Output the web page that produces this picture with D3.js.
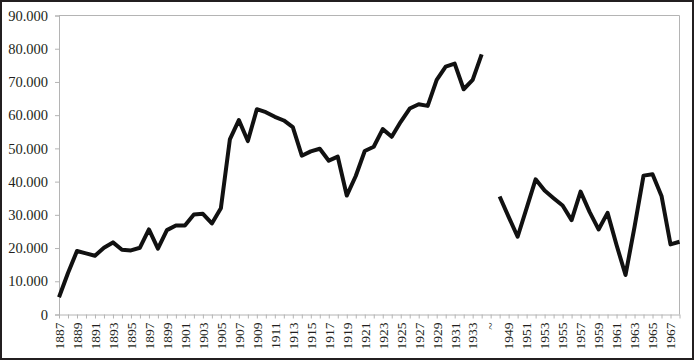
<!DOCTYPE html>
<html>
<head>
<meta charset="utf-8">
<script src="https://cdn.jsdelivr.net/npm/d3@7"></script>
<style>
  html, body { margin: 0; padding: 0; background: #fff; }
  svg { display: block; }
  .axis text { fill: #231f20; }
</style>
</head>
<body>
<svg id="chart"></svg>
<script>
const categories = [
  '1887', '1888', '1889', '1890', '1891', '1892', '1893', '1894', '1895', '1896',
  '1897', '1898', '1899', '1900', '1901', '1902', '1903', '1904', '1905', '1906',
  '1907', '1908', '1909', '1910', '1911', '1912', '1913', '1914', '1915', '1916',
  '1917', '1918', '1919', '1920', '1921', '1922', '1923', '1924', '1925', '1926',
  '1927', '1928', '1929', '1930', '1931', '1932', '1933', '1934', '~', '1948',
  '1949', '1950', '1951', '1952', '1953', '1954', '1955', '1956', '1957', '1958',
  '1959', '1960', '1961', '1962', '1963', '1964', '1965', '1966', '1967', '1968',
];

const values = [
  5200, 12500, 19100, 18400, 17700, 20100, 21700, 19500, 19300, 20100,
  25600, 19800, 25400, 26800, 26800, 30100, 30300, 27400, 32000, 52700,
  58500, 52200, 61800, 60900, 59500, 58400, 56400, 47800, 49100, 49900,
  46300, 47500, 35800, 41700, 49200, 50500, 55800, 53500, 58000, 62000,
  63300, 62800, 70600, 74600, 75500, 67800, 70600, 78300, null, 35500,
  29400, 23400, 32000, 40700, 37300, 35000, 32800, 28400, 37000, 30900,
  25600, 30600, 20900, 11900, 26400, 41800, 42200, 35700, 21100, 21900,
];

const yTicks = [0, 10000, 20000, 30000, 40000, 50000, 60000, 70000, 80000, 90000];

const width = 695;
const height = 361;
const plotLeft = 59;
const plotRight = 679.5;
const plotTop = 15.5;
const plotBottom = 314.5;
const grey = '#b4b4b4';
const font = 'Liberation Serif';

const data = categories.map((c, i) => ({ cat: c, value: values[i] }));

const svg = d3.select('#chart').attr('width', width).attr('height', height);

// frame
svg
  .append('rect')
  .attr('x', 1)
  .attr('y', 1)
  .attr('width', width - 3)
  .attr('height', height - 3)
  .attr('fill', '#fff')
  .attr('stroke', '#231f20')
  .attr('stroke-width', 2);

const xScale = d3.scalePoint().domain(categories).range([plotLeft, plotRight]);
const yScale = d3.scaleLinear().domain([0, 90000]).range([plotBottom, plotTop]);

// plot border (top and right)
svg
  .append('path')
  .attr('d', `M${plotLeft},${plotTop}H${plotRight}V${plotBottom}`)
  .attr('fill', 'none')
  .attr('stroke', grey)
  .attr('stroke-width', 1);

const fmt = (d) => (d === 0 ? '0' : d3.format(',')(d).replace(/,/g, '.'));

// Y
const yAxis = svg
  .append('g')
  .attr('class', 'axis')
  .attr('transform', `translate(${plotLeft},0)`)
  .call(d3.axisLeft(yScale).tickValues(yTicks).tickFormat(fmt).tickSize(4).tickPadding(7))
  .attr('font-family', font)
  .attr('font-size', 14.5);
yAxis.select('.domain').attr('stroke', grey);
yAxis.selectAll('.tick line').attr('stroke', grey);

// X
const xAxis = svg
  .append('g')
  .attr('class', 'axis')
  .attr('transform', `translate(0,${plotBottom})`)
  .call(
    d3
      .axisBottom(xScale)
      .tickSize(4)
      .tickSizeOuter(0)
      .tickFormat((d, i) => (i % 2 === 0 ? d : ''))
  )
  .attr('font-family', font)
  .attr('font-size', 13.5);
xAxis.select('.domain').attr('stroke', grey);
xAxis.selectAll('.tick line').attr('stroke', grey);
xAxis
  .selectAll('text')
  .attr('text-anchor', 'end')
  .attr('transform', 'rotate(-90)')
  .attr('x', -8)
  .attr('y', 0)
  .attr('dy', '0.32em');

// Line
const line = d3
  .line()
  .defined((d) => d.value !== null)
  .x((d) => xScale(d.cat))
  .y((d) => yScale(d.value));

svg
  .append('path')
  .datum(data)
  .attr('fill', 'none')
  .attr('stroke', '#111')
  .attr('stroke-width', 4)
  .attr('stroke-linejoin', 'round')
  .attr('stroke-linecap', 'butt')
  .attr('d', line);
</script>
</body>
</html>
